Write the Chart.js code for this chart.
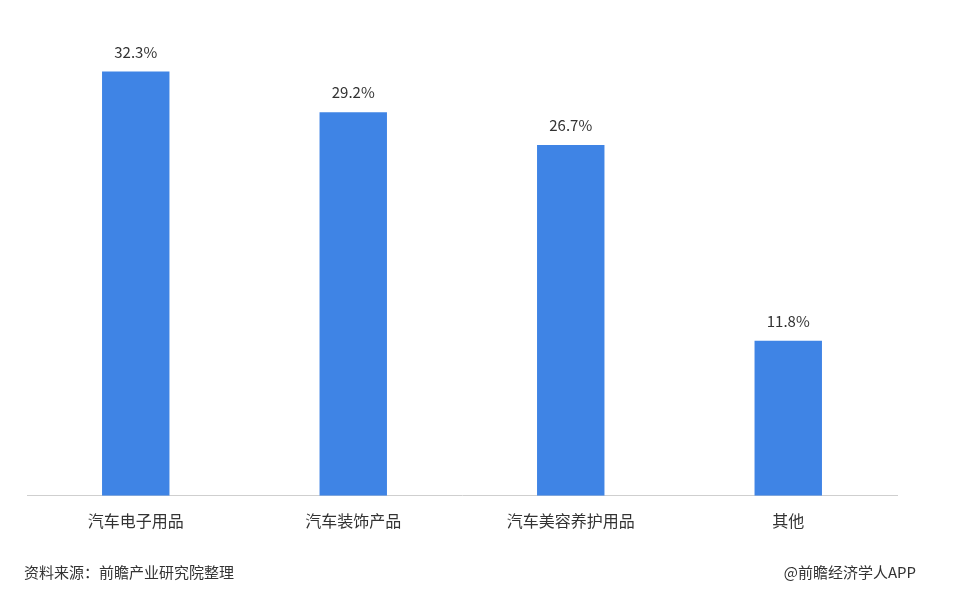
<!DOCTYPE html>
<html>
<head>
<meta charset="utf-8">
<script src="https://cdn.jsdelivr.net/npm/chart.js@4/dist/chart.umd.min.js"></script>
<style>
  html, body { margin: 0; padding: 0; background: #fff; }
  #wrap { position: relative; width: 953px; height: 597px; }
</style>
</head>
<body>
<div id="wrap"><canvas id="canvas" width="953" height="597"></canvas></div>
<script>
// chart data
const categories = ['汽车电子用品', '汽车装饰产品', '汽车美容养护用品', '其他'];
const shares = [32.3, 29.2, 26.7, 11.8];
const sourceText = '资料来源：前瞻产业研究院整理';
const brandText = '@前瞻经济学人APP';

const fontFamily = '"Noto Sans CJK SC", "Noto Sans", sans-serif';

// value labels above each bar
const valueLabels = {
    id: 'valueLabels',
    afterDatasetsDraw(chart) {
        const ctx = chart.ctx;
        const meta = chart.getDatasetMeta(0);
        ctx.save();
        ctx.font = '15px ' + fontFamily;
        ctx.fillStyle = '#333';
        ctx.textAlign = 'center';
        ctx.textBaseline = 'bottom';
        meta.data.forEach((bar, i) => {
            ctx.fillText(shares[i].toFixed(1) + '%', bar.x, bar.y - 12);
        });
        ctx.restore();
    }
};

// source line at the bottom
const footer = {
    id: 'footer',
    afterDraw(chart) {
        const ctx = chart.ctx;
        ctx.save();
        ctx.font = '15px ' + fontFamily;
        ctx.fillStyle = '#333';
        ctx.textBaseline = 'middle';
        ctx.textAlign = 'left';
        ctx.fillText(sourceText, 24, 572);
        ctx.textAlign = 'right';
        ctx.fillText(brandText, 916, 572);
        ctx.restore();
    }
};

const config = {
    type: 'bar',
    data: {
        labels: categories,
        datasets: [{
            data: shares,
            backgroundColor: '#3f84e5',
            borderWidth: 0,
            barPercentage: 0.31,
            categoryPercentage: 1.0
        }]
    },
    options: {
        responsive: false,
        animation: false,
        layout: {
            padding: { left: 27, right: 56, top: 36, bottom: 50 }
        },
        plugins: {
            legend: { display: false },
            tooltip: { enabled: false }
        },
        scales: {
            x: {
                grid: { display: false, drawTicks: false },
                border: { display: true, color: '#cfcfcf', width: 1 },
                ticks: {
                    color: '#333',
                    padding: 16,
                    font: { size: 16, family: fontFamily }
                }
            },
            y: {
                display: false,
                min: 0,
                max: 35
            }
        }
    },
    plugins: [valueLabels, footer]
};

new Chart(document.getElementById('canvas'), config);
</script>
</body>
</html>
